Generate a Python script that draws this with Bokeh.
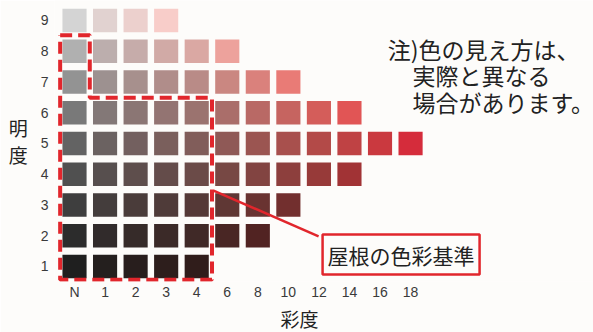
import math
from bokeh.plotting import figure
from bokeh.models import Label, FixedTicker, Range1d, Title
from bokeh.embed import file_html
from bokeh.resources import INLINE

# ---- data ----
chroma_labels = ["N", "1", "2", "3", "4", "6", "8", "10", "12", "14", "16", "18"]
chroma_values = [0, 1, 2, 3, 4, 6, 8, 10, 12, 14, 16, 18]
value_levels = [1, 2, 3, 4, 5, 6, 7, 8, 9]
max_chroma = [4, 8, 10, 14, 18, 14, 10, 6, 3]   # highest chroma shown per value row
value_lightness = [12, 18, 26, 34, 42, 51, 61, 72, 85]  # approx L* of each value row

# roof colour standard outline (chroma index, value) corners
roof_x = [-0.47, 0.5, 0.5, 4.5, 4.5, -0.47, -0.47]
roof_y = [8.52, 8.52, 6.49, 6.49, 0.57, 0.57, 8.52]

BG = "#fdfcfa"
RED = "#e1262c"
JP = "Noto Sans CJK JP"


def lab_hex(L, a, b):
    fy = (L + 16) / 116
    fx = fy + a / 500
    fz = fy - b / 200

    def finv(t):
        return t ** 3 if t ** 3 > 0.008856 else (t - 16 / 116) / 7.787

    X = 0.95047 * finv(fx)
    Y = finv(fy)
    Z = 1.08883 * finv(fz)
    r = 3.2406 * X - 1.5372 * Y - 0.4986 * Z
    g = -0.9689 * X + 1.8758 * Y + 0.0415 * Z
    bl = 0.0557 * X - 0.2040 * Y + 1.0570 * Z

    def gam(c):
        c = max(0.0, min(1.0, c))
        return 12.92 * c if c <= 0.0031308 else 1.055 * c ** (1 / 2.4) - 0.055

    return "#%02x%02x%02x" % tuple(int(round(gam(c) * 255)) for c in (r, g, bl))


def cell_color(v, c, L):
    k = 2.3 + 0.35 * v
    h = math.radians(28)
    return lab_hex(L + 0.3 * c, k * c * math.cos(h), k * c * math.sin(h))


xs, ys, cols = [], [], []
for v, mc, L in zip(value_levels, max_chroma, value_lightness):
    for i, c in enumerate(chroma_values):
        if c <= mc:
            xs.append(i)
            ys.append(v)
            cols.append(cell_color(v, c, L))

p = figure(width=593, height=332, output_backend="svg", toolbar_location=None,
           x_range=Range1d(-0.655, 16.988), y_range=Range1d(0.512, 9.65),
           min_border_left=54, min_border_right=0, min_border_top=0, min_border_bottom=51)
p.background_fill_color = BG
p.border_fill_color = BG
p.outline_line_color = None
p.grid.visible = False

p.rect(x=xs, y=ys, width=0.79, height=0.77, fill_color=cols, line_color=None)

# dashed outline of roof standard
p.line(x=roof_x, y=roof_y, line_color=RED, line_width=4, line_dash="12 6")
# leader line
p.line(x=[4.55, 7.99], y=[3.47, 1.98], line_color=RED, line_width=2.5)

# axes
p.xaxis.ticker = FixedTicker(ticks=list(range(len(chroma_labels))))
p.xaxis.major_label_overrides = {i: s for i, s in enumerate(chroma_labels)}
p.yaxis.ticker = FixedTicker(ticks=value_levels)
for ax in (p.xaxis, p.yaxis):
    ax.axis_line_color = None
    ax.major_tick_line_color = None
    ax.minor_tick_line_color = None
    ax.major_tick_out = 0
    ax.major_tick_in = 0
    ax.minor_tick_out = 0
    ax.minor_tick_in = 0
    ax.major_label_text_font = "Liberation Sans"
    ax.major_label_text_font_size = "14px"
    ax.major_label_text_color = "#3a3a3a"
    ax.axis_label_text_font = JP
    ax.axis_label_text_font_size = "19px"
    ax.axis_label_text_font_style = "normal"
    ax.axis_label_text_color = "#222222"
p.xaxis.major_label_standoff = 2
p.yaxis.major_label_standoff = 6
p.yaxis.axis_label = "明\n度"
p.yaxis.axis_label_orientation = "horizontal"
p.yaxis.axis_label_standoff = 10
p.yaxis.axis_label_text_line_height = 1.0
p.yaxis.bounds = (0.512, 9.001)

# x-axis title placed below the tick labels
p.add_layout(Title(text="彩度", align="left", offset=226, standoff=0,
                   text_font=JP, text_font_size="19px", text_font_style="normal",
                   text_color="#222222"), "below")

# note
note_lines = ["注)色の見え方は、", "実際と異なる", "場合があります。"]
note_x = [10.25, 11.06, 11.06]
note_y = [8.08, 7.22, 6.35]
for t, nx, ny in zip(note_lines, note_x, note_y):
    p.add_layout(Label(x=nx, y=ny, text=t, text_font=JP, text_font_size="23px",
                       text_align="left", text_baseline="middle", text_color="#222222"))

# boxed label
p.add_layout(Label(x=8.12, y=1.39, text="屋根の色彩基準", text_font=JP, text_font_size="21px",
                   text_align="left", text_baseline="middle", text_color="#222222",
                   border_line_color=RED, border_line_width=2.5,
                   background_fill_color=BG, padding=5))

open("out.html", "w").write(file_html(p, INLINE))
